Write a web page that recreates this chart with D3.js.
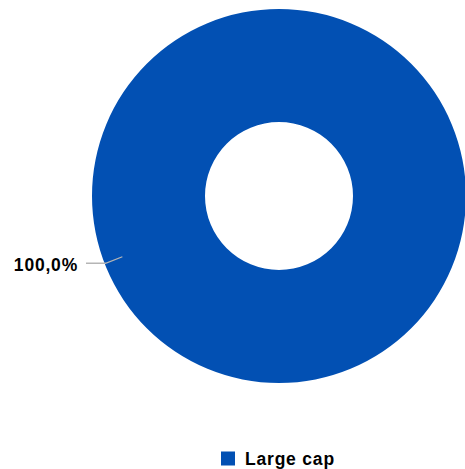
<!DOCTYPE html>
<html>
<head>
<meta charset="utf-8">
<script src="https://cdn.jsdelivr.net/npm/d3@7"></script>
<style>
  html, body { margin: 0; padding: 0; background: #fff; }
  svg { display: block; }
</style>
</head>
<body>
<svg id="chart" width="465" height="469"></svg>
<script>
// Portfolio breakdown by market capitalisation
const categories = ["Large cap"];
const shares = [100.0];
const colors = ["#0250b3"];

const width = 465, height = 469;
const cx = 279, cy = 196;
const outerR = 187, innerR = 74;

const svg = d3.select("#chart");
const g = svg.append("g").attr("transform", `translate(${cx},${cy})`);

const data = categories.map((c, i) => ({ name: c, value: shares[i], color: colors[i] }));

const pie = d3.pie().value(d => d.value).sort(null);
const arc = d3.arc().innerRadius(innerR).outerRadius(outerR);

const arcs = pie(data);

g.selectAll("path.slice")
  .data(arcs)
  .join("path")
  .attr("class", "slice")
  .attr("d", arc)
  .attr("fill", d => d.data.color);

// Leader line and value label, anchored on the left side of the ring
const fmt = v => v.toFixed(1).replace(".", ",") + "%";
const labelAngle = 248.8 * Math.PI / 180;
const pt = (r) => [r * Math.sin(labelAngle), -r * Math.cos(labelAngle)];
const p0 = pt(168), p1 = pt(186);
const p2 = [86 - cx, p1[1]];

arcs.forEach(d => {
  g.append("polyline")
    .attr("points", [p0, p1, p2].map(p => p.join(",")).join(" "))
    .attr("fill", "none")
    .attr("stroke", "#b5b5b5")
    .attr("stroke-width", 1.3);

  g.append("text")
    .attr("x", 78 - cx)
    .attr("y", p2[1] + 8)
    .attr("text-anchor", "end")
    .attr("font-family", "Liberation Sans, Arial, sans-serif")
    .attr("font-weight", "bold")
    .attr("font-size", 17.5)
    .attr("letter-spacing", 0.8)
    .attr("fill", "#000")
    .text(fmt(d.data.value));
});

// Legend
const legend = svg.append("g").attr("transform", "translate(221,451.5)");
const item = legend.selectAll("g.item").data(data).join("g").attr("class", "item");
item.append("rect")
  .attr("width", 14).attr("height", 14)
  .attr("fill", d => d.color);
item.append("text")
  .attr("x", 24).attr("y", 13)
  .attr("font-family", "Liberation Sans, Arial, sans-serif")
  .attr("font-weight", "bold")
  .attr("font-size", 17.5)
  .attr("letter-spacing", 0.8)
  .attr("fill", "#000")
  .text(d => d.name);
</script>
</body>
</html>
